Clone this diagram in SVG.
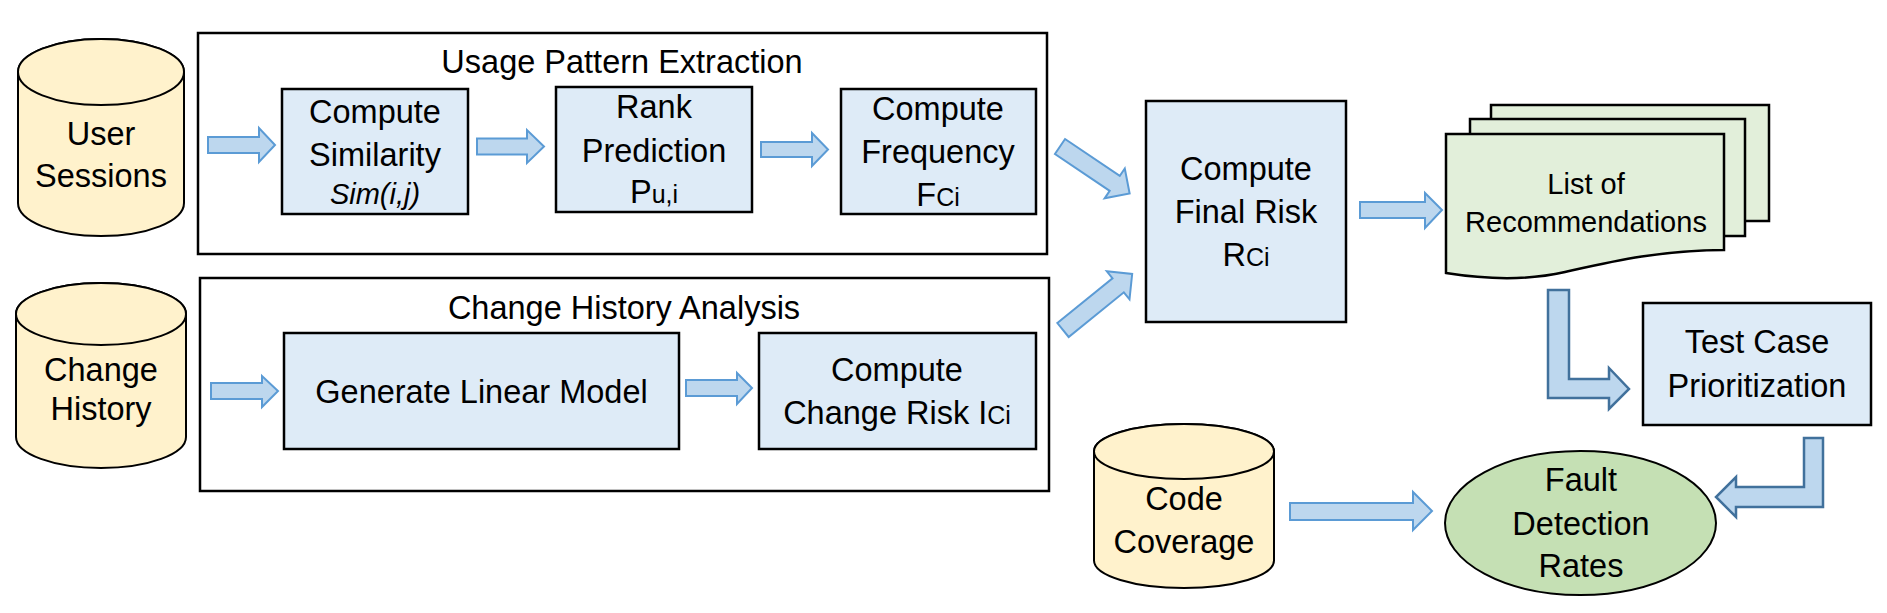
<svg xmlns="http://www.w3.org/2000/svg" width="1887" height="613" viewBox="0 0 1887 613">
<style>
text{font-family:"Liberation Sans",Arial,sans-serif;font-size:32.5px;fill:#000;text-anchor:middle}
.sm{font-size:29px}
.sub{font-size:25px}
.it{font-style:italic;font-size:29px}
.box{fill:#DEEBF7;stroke:#000;stroke-width:2.5}
.frame{fill:none;stroke:#000;stroke-width:2.5}
.cyl{fill:#FFF2CC;stroke:#000;stroke-width:2}
.doc{fill:#E2EFDA;stroke:#000;stroke-width:2.5}
.arr{fill:#BDD7EE;stroke:#5B9BD5;stroke-width:2;stroke-linejoin:miter}
.arrd{fill:#BDD7EE;stroke:#41719C;stroke-width:2.5;stroke-linejoin:miter}
</style>
<defs>
<polygon id="diag" points="0,-9 -18,-9 -18,-18 0,0 -18,18 -18,9 0,9"/>
</defs>
<rect width="1887" height="613" fill="#fff"/>

<g id="usage-pattern-extraction">
<rect class="frame" x="198" y="33" width="849" height="221"/>
<text x="622" y="73">Usage Pattern Extraction</text>
</g>
<g id="change-history-analysis">
<rect class="frame" x="200" y="278" width="849" height="213"/>
<text x="624" y="319">Change History Analysis</text>
</g>

<g id="user-sessions">
<path class="cyl" d="M18,72 L18,203 A83,33 0 0 0 184,203 L184,72 A83,33 0 0 0 18,72 Z"/>
<ellipse class="cyl" cx="101" cy="72" rx="83" ry="33"/>
<text x="101" y="145">User</text>
<text x="101" y="187">Sessions</text>
</g>

<g id="change-history">
<path class="cyl" d="M16,314 L16,437 A85,31 0 0 0 186,437 L186,314 A85,31 0 0 0 16,314 Z"/>
<ellipse class="cyl" cx="101" cy="314" rx="85" ry="31"/>
<text x="101" y="381">Change</text>
<text x="101" y="420">History</text>
</g>

<g id="code-coverage">
<path class="cyl" d="M1094,451.5 L1094,560.5 A90,27.5 0 0 0 1274,560.5 L1274,451.5 A90,27.5 0 0 0 1094,451.5 Z"/>
<ellipse class="cyl" cx="1184" cy="451.5" rx="90" ry="27.5"/>
<text x="1184" y="510">Code</text>
<text x="1184" y="553">Coverage</text>
</g>

<g id="compute-similarity">
<rect class="box" x="282" y="89" width="186" height="125"/>
<text x="375" y="123">Compute</text>
<text x="375" y="166">Similarity</text>
<text class="it" x="375" y="204">Sim(i,j)</text>
</g>

<g id="rank-prediction">
<rect class="box" x="556" y="87" width="196" height="125"/>
<text x="654" y="118">Rank</text>
<text x="654" y="162">Prediction</text>
<text x="654" y="203">P<tspan class="sub">u,i</tspan></text>
</g>

<g id="compute-frequency">
<rect class="box" x="841" y="89" width="195" height="125"/>
<text x="938" y="120">Compute</text>
<text x="938" y="163">Frequency</text>
<text x="938" y="206">F<tspan class="sub">Ci</tspan></text>
</g>

<g id="generate-linear-model">
<rect class="box" x="284" y="333" width="395" height="116"/>
<text x="481.5" y="403">Generate Linear Model</text>
</g>

<g id="compute-change-risk">
<rect class="box" x="759" y="333" width="277" height="116"/>
<text x="897" y="381">Compute</text>
<text x="897" y="424">Change Risk I<tspan class="sub">Ci</tspan></text>
</g>

<g id="compute-final-risk">
<rect class="box" x="1146" y="101" width="200" height="221"/>
<text x="1246" y="180">Compute</text>
<text x="1246" y="223">Final Risk</text>
<text x="1246" y="266">R<tspan class="sub">Ci</tspan></text>
</g>

<g id="list-of-recommendations">
<rect class="doc" x="1491" y="105" width="278" height="116"/>
<rect class="doc" x="1470" y="119" width="275" height="117"/>
<path class="doc" d="M1446,134 H1724 V250 C1660,250 1610,262 1565,272 C1530,280 1490,280 1446,273 Z"/>
<text class="sm" x="1586" y="194">List of</text>
<text class="sm" x="1586" y="232">Recommendations</text>
</g>

<g id="test-case-prioritization">
<rect class="box" x="1643" y="303" width="228" height="122"/>
<text x="1757" y="353">Test Case</text>
<text x="1757" y="397">Prioritization</text>
</g>

<g id="fault-detection-rates">
<ellipse cx="1580.5" cy="523" rx="135.5" ry="72" fill="#C5E0B4" stroke="#000" stroke-width="2"/>
<text x="1581" y="491">Fault</text>
<text x="1581" y="535">Detection</text>
<text x="1581" y="577">Rates</text>
</g>

<g id="connectors">
<polygon class="arr" points="208,137 259,137 259,128 275,145 259,162 259,153 208,153"/>
<polygon class="arr" points="477,138.5 527,138.5 527,130 544,146.5 527,163 527,154.5 477,154.5"/>
<polygon class="arr" points="761,142 812,142 812,133 828,149.5 812,166 812,157 761,157"/>
<polygon class="arr" points="211,383 262,383 262,376 278,391 262,407 262,399 211,399"/>
<polygon class="arr" points="686,380 737,380 737,373 752,388 737,404 737,396 686,396"/>
<polygon class="arr" points="1360,202 1425,202 1425,193 1442,210 1425,228 1425,218 1360,218"/>
<polygon class="arr" points="1290,503 1413,503 1413,492 1432,511 1413,530 1413,520 1290,520"/>
<polygon class="arr" transform="translate(1060,146.5) rotate(34)" points="0,-9 66,-9 66,-18 84,0 66,18 66,9 0,9"/>
<polygon class="arr" transform="translate(1063,330) rotate(-39)" points="0,-9 71,-9 71,-18 89,0 71,18 71,9 0,9"/>
<polygon class="arrd" points="1548,290 1569,290 1569,379 1609,379 1609,368 1629,389 1609,409 1609,398 1548,398"/>
<polygon class="arrd" points="1823,438 1804,438 1804,487 1736,487 1736,477 1716,497 1736,517 1736,507 1823,507"/>
</g>
</svg>
